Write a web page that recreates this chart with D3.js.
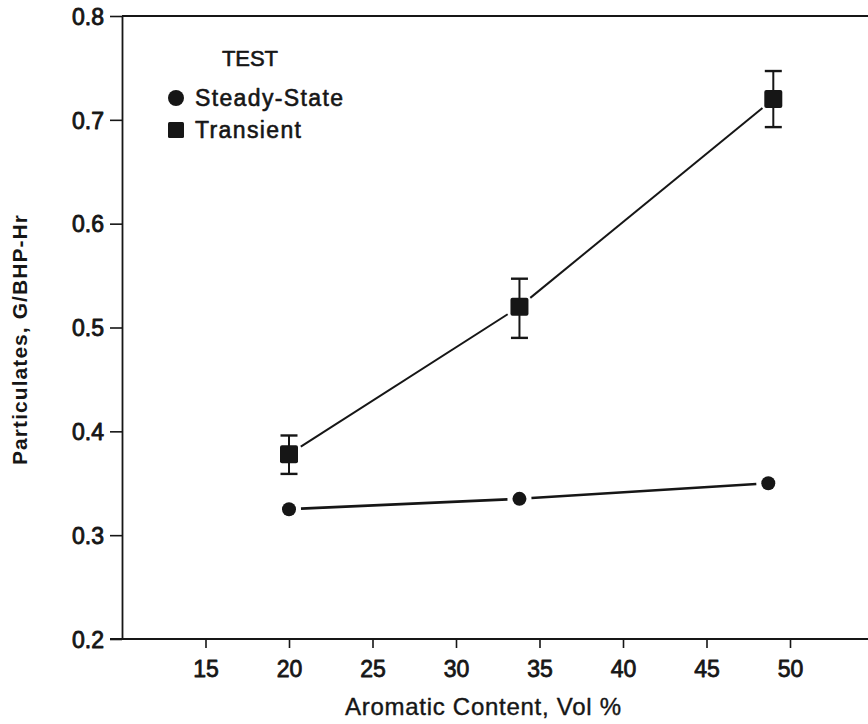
<!DOCTYPE html>
<html><head><meta charset="utf-8">
<script src="https://cdn.jsdelivr.net/npm/d3@7"></script>
<style>
html,body{margin:0;padding:0;background:#fff;}
svg{display:block;}
text{font-family:"Liberation Sans",Arial,Helvetica,sans-serif;fill:#161616;}
</style></head>
<body>
<svg id="chart" width="868" height="724"></svg>
<script>
// ---- data ----
const xTicks = [15, 20, 25, 30, 35, 40, 45, 50];
const yTicks = [0.2, 0.3, 0.4, 0.5, 0.6, 0.7, 0.8];
const seriesNames = ["Steady-State", "Transient"];
const steadyX = [20, 33.8, 48.7];
const steadyY = [0.325, 0.335, 0.350];
const transientX = [20, 33.8, 49];
const transientY = [0.378, 0.52, 0.72];
const transientLow = [0.359, 0.49, 0.693];
const transientHigh = [0.396, 0.547, 0.747];
const legendTitle = "TEST";
const xTitle = "Aromatic Content, Vol %";
const yTitle = "Particulates, G/BHP-Hr";

const ink = "#161616";
const svg = d3.select("#chart");
const x = d3.scaleLinear().domain([10, 55]).range([122, 873.5]);
const y = d3.scaleLinear().domain([0.2, 0.8]).range([639, 16]);

function heavy(sel, w) {
  sel.attr("stroke", ink).attr("stroke-width", w).attr("paint-order", "stroke").attr("stroke-linejoin", "round");
}

// bottom axis
const xAxis = d3.axisBottom(x).tickValues(xTicks).tickSize(9).tickSizeOuter(0).tickPadding(12).tickFormat(d3.format("d"));
const gx = svg.append("g").attr("transform", `translate(0,${y(0.2)})`).call(xAxis);
gx.select(".domain").attr("d", `M110,0H868`).attr("stroke", ink).attr("stroke-width", 2);
gx.selectAll(".tick line").attr("stroke", ink).attr("stroke-width", 1.6);
gx.selectAll(".tick text").attr("font-size", 23).attr("fill", ink).attr("y", 38).attr("dy", null)
  .style("font-family", '"Liberation Sans",Arial,sans-serif');
heavy(gx.selectAll(".tick text"), 0.8);

// left axis
const yAxis = d3.axisLeft(y).tickValues(yTicks).tickSize(12).tickSizeOuter(0).tickPadding(6).tickFormat(d3.format(".1f"));
const gy = svg.append("g").attr("transform", `translate(${x(10)},0)`).call(yAxis);
gy.select(".domain").attr("stroke", ink).attr("stroke-width", 1.8);
gy.selectAll(".tick line").attr("stroke", ink).attr("stroke-width", 1.6);
gy.selectAll(".tick text").attr("font-size", 23).attr("fill", ink).attr("dy", "0.36em")
  .style("font-family", '"Liberation Sans",Arial,sans-serif');
heavy(gy.selectAll(".tick text"), 0.9);

// top frame line
svg.append("line").attr("x1", x(10)).attr("x2", 868).attr("y1", y(0.8)).attr("y2", y(0.8))
  .attr("stroke", ink).attr("stroke-width", 2);

// titles
const xt = svg.append("text").attr("x", 345).attr("y", 715)
  .attr("font-size", 24).attr("textLength", 276).attr("lengthAdjust", "spacing").text(xTitle);
heavy(xt, 0.4);
svg.append("text").attr("transform", `translate(27,340) rotate(-90)`).attr("text-anchor", "middle")
  .attr("font-size", 21).attr("font-weight", "bold").attr("fill", "#3a3a3a")
  .attr("textLength", 250).attr("lengthAdjust", "spacing").text(yTitle);

// connecting segments with gaps near markers
function gapSegments(xs, ys, gap) {
  const segs = [];
  for (let i = 0; i < xs.length - 1; i++) {
    const x1 = x(xs[i]), y1 = y(ys[i]), x2 = x(xs[i + 1]), y2 = y(ys[i + 1]);
    const L = Math.hypot(x2 - x1, y2 - y1), ux = (x2 - x1) / L, uy = (y2 - y1) / L;
    segs.push([[x1 + ux * gap, y1 + uy * gap], [x2 - ux * gap, y2 - uy * gap]]);
  }
  return segs;
}
const line = d3.line();
svg.selectAll("path.steady").data(gapSegments(steadyX, steadyY, 12)).join("path")
  .attr("class", "steady").attr("d", line).attr("fill", "none").attr("stroke", ink).attr("stroke-width", 2.6);
svg.selectAll("path.trans").data(gapSegments(transientX, transientY, 14)).join("path")
  .attr("class", "trans").attr("d", line).attr("fill", "none").attr("stroke", ink).attr("stroke-width", 2);

// error bars
const tIdx = d3.range(transientX.length);
const eb = svg.append("g").attr("stroke", ink);
eb.selectAll("line.stem").data(tIdx).join("line").attr("class", "stem")
  .attr("x1", i => x(transientX[i])).attr("x2", i => x(transientX[i]))
  .attr("y1", i => y(transientLow[i])).attr("y2", i => y(transientHigh[i])).attr("stroke-width", 2);
eb.selectAll("line.capH").data(tIdx).join("line").attr("class", "capH")
  .attr("x1", i => x(transientX[i]) - 8.5).attr("x2", i => x(transientX[i]) + 8.5)
  .attr("y1", i => y(transientHigh[i])).attr("y2", i => y(transientHigh[i])).attr("stroke-width", 2.4);
eb.selectAll("line.capL").data(tIdx).join("line").attr("class", "capL")
  .attr("x1", i => x(transientX[i]) - 8.5).attr("x2", i => x(transientX[i]) + 8.5)
  .attr("y1", i => y(transientLow[i])).attr("y2", i => y(transientLow[i])).attr("stroke-width", 2.4);

// markers
svg.selectAll("rect.tm").data(tIdx).join("rect").attr("class", "tm")
  .attr("x", i => x(transientX[i]) - 9).attr("y", i => y(transientY[i]) - 9)
  .attr("width", 18).attr("height", 18).attr("rx", 2).attr("fill", ink);
svg.selectAll("circle.sm").data(d3.range(steadyX.length)).join("circle").attr("class", "sm")
  .attr("cx", i => x(steadyX[i])).attr("cy", i => y(steadyY[i])).attr("r", 7).attr("fill", ink);

// legend
const lg = svg.append("g");
const t0 = lg.append("text").attr("x", 222).attr("y", 66).attr("font-size", 22)
  .attr("textLength", 56).attr("lengthAdjust", "spacing").text(legendTitle);
lg.append("circle").attr("cx", 176).attr("cy", 98).attr("r", 8).attr("fill", ink);
lg.append("rect").attr("x", 168).attr("y", 122).attr("width", 16).attr("height", 16).attr("rx", 1.5).attr("fill", ink);
const t1 = lg.append("text").attr("x", 195).attr("y", 106).attr("font-size", 23)
  .attr("textLength", 148).attr("lengthAdjust", "spacing").text(seriesNames[0]);
const t2 = lg.append("text").attr("x", 195).attr("y", 138).attr("font-size", 23)
  .attr("textLength", 106).attr("lengthAdjust", "spacing").text(seriesNames[1]);
heavy(t0, 0.6); heavy(t1, 0.6); heavy(t2, 0.6);
</script>
</body></html>
